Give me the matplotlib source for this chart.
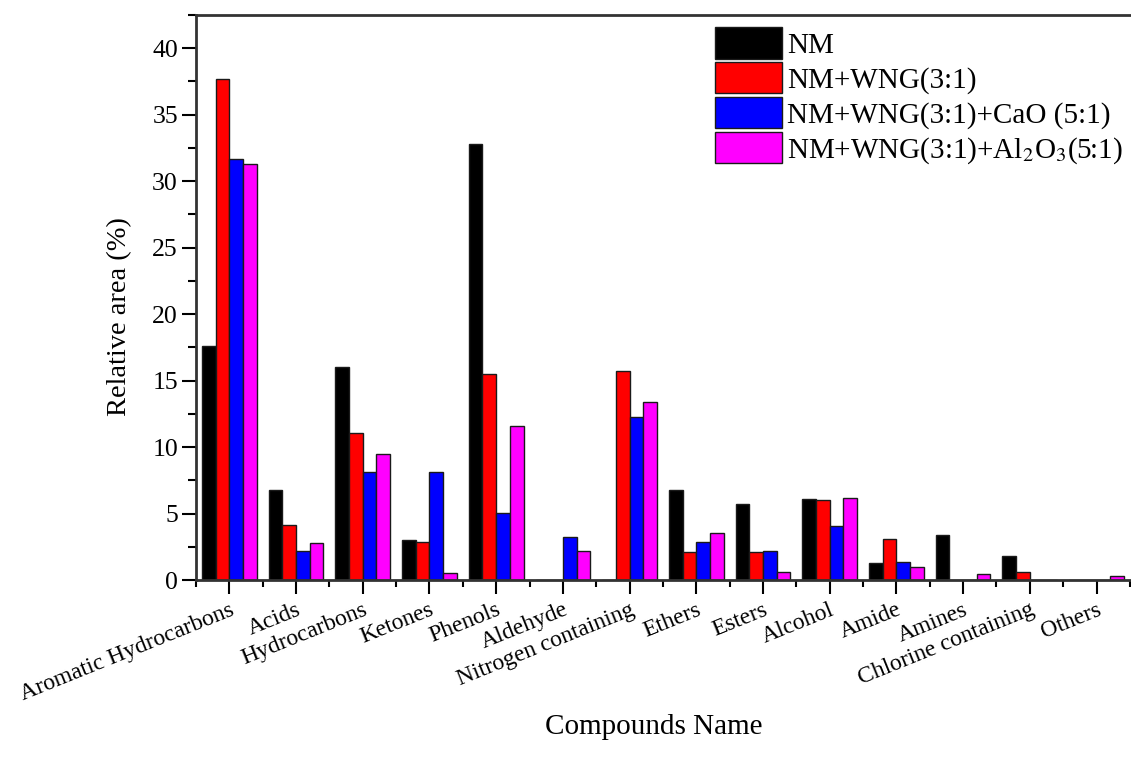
import matplotlib
matplotlib.use("Agg")
import matplotlib.pyplot as plt
import numpy as np
from matplotlib.ticker import MultipleLocator, FixedLocator

plt.rcParams['font.family'] = ['Liberation Serif', 'DejaVu Serif']
plt.rcParams['mathtext.fontset'] = 'stix'

categories = ["Aromatic Hydrocarbons", "Acids", "Hydrocarbons", "Ketones", "Phenols",
              "Aldehyde", "Nitrogen containing", "Ethers", "Esters", "Alcohol",
              "Amide", "Amines", "Chlorine containing", "Others"]

nm = [17.6, 6.8, 16.0, 3.0, 32.8, 0.0, 0.0, 6.75, 5.7, 6.1, 1.25, 3.35, 1.8, 0.0]
nm_wng = [37.7, 4.15, 11.05, 2.85, 15.5, 0.0, 15.75, 2.1, 2.1, 6.0, 3.1, 0.0, 0.6, 0.0]
nm_wng_cao = [31.7, 2.2, 8.15, 8.15, 5.05, 3.2, 12.25, 2.85, 2.2, 4.05, 1.35, 0.0, 0.0, 0.0]
nm_wng_al2o3 = [31.3, 2.8, 9.45, 0.5, 11.55, 2.2, 13.4, 3.55, 0.6, 6.2, 0.95, 0.45, 0.0, 0.3]

series = [nm, nm_wng, nm_wng_cao, nm_wng_al2o3]
labels = ["NM", "NM+WNG(3:1)", "NM+WNG(3:1)+CaO (5:1)", "NM+WNG(3:1)+Al$_2$O$_3$(5:1)"]
colors = ["#000000", "#ff0000", "#0000ff", "#ff00ff"]

fig = plt.figure(figsize=(11.31, 7.62), dpi=100)
ax = fig.add_axes([0.1733, 0.2388, 0.8257, 0.7415])

x = np.arange(len(categories))
w = 0.205
for i, (vals, lab, col) in enumerate(zip(series, labels, colors)):
    ax.bar(x + (i - 1.5) * w, vals, width=w, color=col, edgecolor="#1a1a1a",
           linewidth=1.0, label=lab, zorder=2)

ax.set_xlim(-0.5, 13.5)
ax.set_ylim(0, 42.5)

ax.yaxis.set_major_locator(MultipleLocator(5))
ax.yaxis.set_minor_locator(MultipleLocator(2.5))
ax.xaxis.set_major_locator(FixedLocator(x))
ax.xaxis.set_minor_locator(FixedLocator(np.arange(-0.5, 13.6, 1.0)))

ax.set_xticklabels(categories, rotation=22, ha="right", va="top",
                   rotation_mode="anchor", fontsize=17)
ax.tick_params(axis="y", which="major", length=10, width=1.5, labelsize=18.5, direction="out", pad=3)
ax.tick_params(axis="y", which="minor", length=6, width=1.5, direction="out")
ax.tick_params(axis="x", which="major", length=10, width=1.5, direction="out", pad=4)
ax.tick_params(axis="x", which="minor", length=5, width=1.5, direction="out")

for s in ["left", "bottom", "top"]:
    ax.spines[s].set_linewidth(2.0)
    ax.spines[s].set_color("#333333")
ax.spines["right"].set_visible(False)

ax.set_ylabel("Relative area (%)", fontsize=20.5)
ax.yaxis.set_label_coords(-0.068, 0.467)
ax.set_xlabel("Compounds Name", fontsize=21)
ax.xaxis.set_label_coords(0.49, -0.237)

leg = fig.legend(loc="upper left", bbox_to_anchor=(0.632, 0.9646), frameon=False,
                 fontsize=21, handlelength=2.29, handleheight=1.3, labelspacing=0.1,
                 handletextpad=0.2, borderpad=0, borderaxespad=0)

fig.savefig("out.png", dpi=100, facecolor="white")
